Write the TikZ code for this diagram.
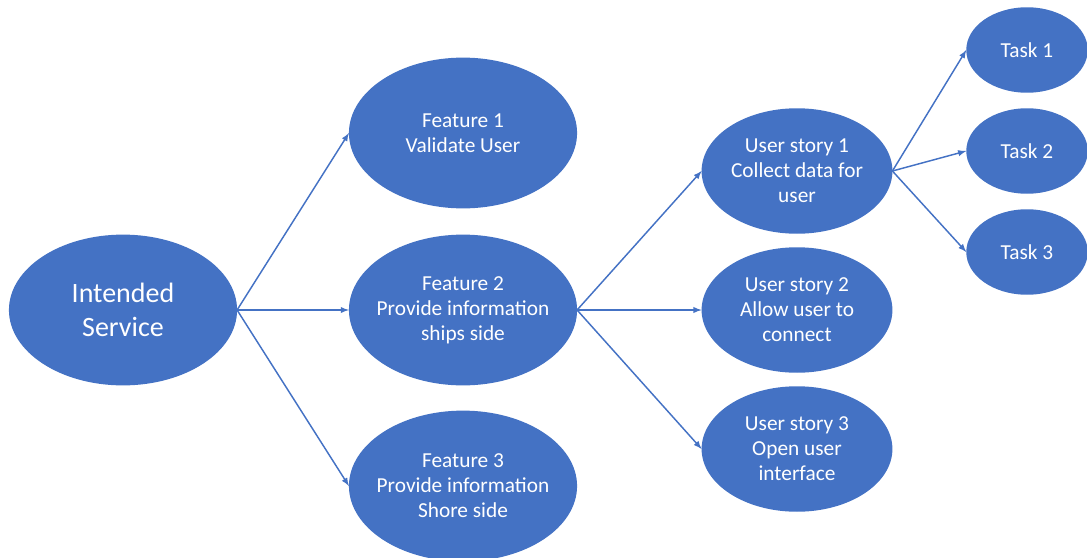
\documentclass[tikz,border=0pt]{standalone}
\usepackage{fontspec}
\setmainfont{Carlito}
\usetikzlibrary{shapes,arrows}
\definecolor{officeblue}{HTML}{4472C4}
\tikzstyle{bubble}=[draw=officeblue,fill=officeblue,ellipse,text=white,align=center,inner ysep=0pt,inner xsep=-6pt]
\tikzstyle{root}=[bubble,minimum width=170pt,minimum height=112pt,font=\fontsize{21}{25}\selectfont]
\tikzstyle{feature}=[bubble,minimum width=170pt,minimum height=112pt,font=\fontsize{16}{18.75}\selectfont]
\tikzstyle{story}=[bubble,minimum width=142pt,minimum height=93pt,font=\fontsize{16}{18.75}\selectfont]
\tikzstyle{task}=[bubble,minimum width=90pt,minimum height=63pt,font=\fontsize{16}{18.75}\selectfont]
\newcommand{\newBubble}[4]{\node[#3](#1) at (#4){#2};}
\newcommand{\newLink}[2]{\draw[->] (#1.east) -- (#2.west);}

\begin{document}
\begin{tikzpicture}[x=0.75pt,y=-0.75pt,
    >=latex,draw=officeblue,line width=1.1pt
    ]
    \useasboundingbox (0,0) rectangle (1087,557);
    \newBubble{srv}{Intended\\Service}{root}{123,310}
    \newBubble{f1}{Feature 1\\Validate User}{feature}{463,133}
    \newBubble{f2}{Feature 2\\Provide information\\ships side}{feature}{463,310}
    \newBubble{f3}{Feature 3\\Provide information\\Shore side}{feature}{463,486}
    \newBubble{us1}{User story 1\\Collect data for\\user}{story}{797,171}
    \newBubble{us2}{User story 2\\Allow user to\\connect}{story}{797,310}
    \newBubble{us3}{User story 3\\Open user\\interface}{story}{797,449}
    \newBubble{t1}{Task 1}{task}{1027,50}
    \newBubble{t2}{Task 2}{task}{1027,151}
    \newBubble{t3}{Task 3}{task}{1027,252}
    \newLink{srv}{f1}
    \newLink{srv}{f2}
    \newLink{srv}{f3}
    \newLink{f2}{us1}
    \newLink{f2}{us2}
    \newLink{f2}{us3}
    \newLink{us1}{t1}
    \newLink{us1}{t2}
    \newLink{us1}{t3}
  \end{tikzpicture}
\end{document}
